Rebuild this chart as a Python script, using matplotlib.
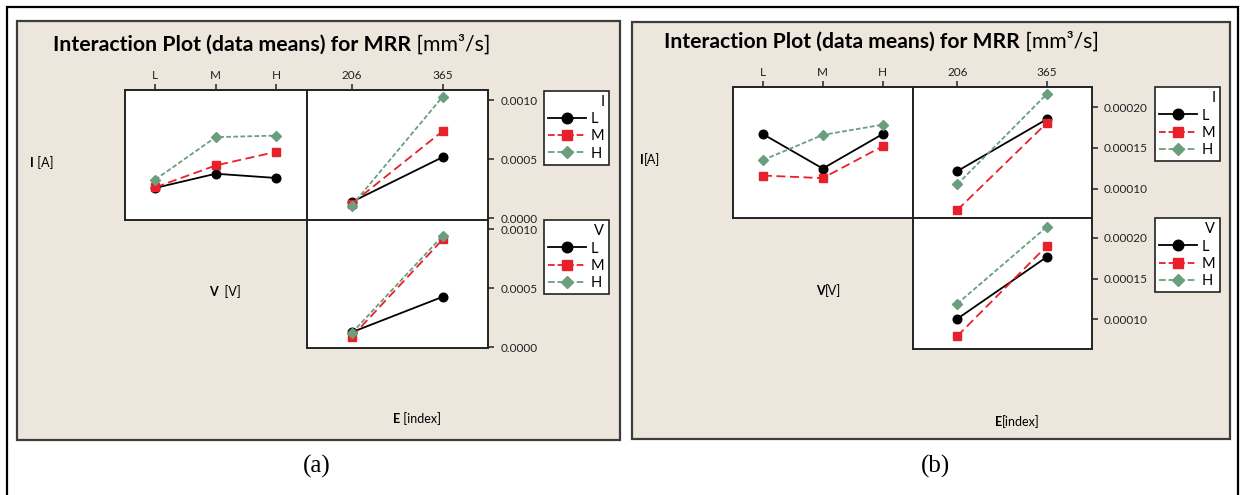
"""
Interaction plots (data means) for MRR - two panels (a) and (b)
"""
import matplotlib
matplotlib.use('Agg')
import matplotlib.pyplot as plt
from matplotlib.patches import Rectangle
from matplotlib.lines import Line2D

plt.rcParams.update({
    'font.family': ['Lato', 'DejaVu Sans'],
    'font.size': 8,
    'axes.linewidth': 1.4,
})

W, H = 1244, 495

# niveaux
LEVELS = ['L', 'M', 'H']
E_LEVELS = ['206', '365']

# panel (a) : moyennes, lignes dans l'ordre L, M, H
A_I_BY_V = [[0.000258, 0.000378, 0.000342],
            [0.000263, 0.000448, 0.000563],
            [0.000328, 0.000687, 0.000700]]
A_I_BY_E = [[0.000140, 0.000518],
            [0.000126, 0.000737],
            [0.000109, 0.001028]]
A_V_BY_E = [[0.000126, 0.000427],
            [0.000088, 0.000915],
            [0.000120, 0.000946]]
A_YTICKS = [0.0, 0.0005, 0.0010]

# panel (b)
B_I_BY_V = [[0.000167, 0.0001246, 0.000167],
            [0.000116, 0.0001128, 0.000152],
            [0.000135, 0.000166, 0.0001786]]
B_I_BY_E = [[0.0001214, 0.0001853],
            [0.0000735, 0.0001807],
            [0.000105, 0.0002163]]
B_V_BY_E = [[0.0001007, 0.0001766],
            [0.0000795, 0.00019],
            [0.0001192, 0.0002135]]
B_YTICKS = [0.00010, 0.00015, 0.00020]

STYLES = [
    dict(color='black', ls='-', marker='o', ms=6.2),
    dict(color='#E8202A', ls=(0, (5, 2.5)), marker='s', ms=5.4),
    dict(color='#6B9E7E', ls=(0, (2.6, 1.3)), marker='D', ms=5.2),
]
BEIGE = '#ECE6DC'
TITLE_BOLD = 'Interaction Plot (data means) for MRR'
TITLE_REST = ' [mm³/s]'


def frac(x0, y0, x1, y1):
    return [x0 / W, 1 - y1 / H, (x1 - x0) / W, (y1 - y0) / H]


fig = plt.figure(figsize=(W / 100, H / 100), dpi=100)
fig.patch.set_facecolor('white')
renderer = fig.canvas.get_renderer()


def two_part(x, y, bold, normal, size):
    t = fig.text(x / W, 1 - y / H, bold, fontsize=size, fontweight='bold', va='baseline')
    bb = t.get_window_extent(renderer=renderer)
    t2 = fig.text(bb.x1 / W, 1 - y / H, normal, fontsize=size, va='baseline')
    return t, t2


def draw_lines(ax, series, n):
    handles = []
    for vals, st in zip(series, STYLES):
        h, = ax.plot(range(n), vals, color=st['color'], ls=st['ls'], marker=st['marker'],
                     ms=st['ms'], lw=1.3, mfc=st['color'], mec=st['color'])
        handles.append(h)
    return handles


def panel(box, axes_px, sI_V, sI_E, sV_E, yticks, ylim, fmt, leg_px, title_px,
          labels, label_xy, caption):
    # fond beige
    x0, y0, x1, y1 = box
    fig.patches.append(Rectangle((x0 / W, 1 - y1 / H), (x1 - x0) / W, (y1 - y0) / H,
                                 transform=fig.transFigure, facecolor=BEIGE,
                                 edgecolor='#3C3C3C', lw=1.6, zorder=-1))
    left, mid, right, top, row, bottom = axes_px

    ax1 = fig.add_axes(frac(left, top, mid, row))
    ax2 = fig.add_axes(frac(mid, top, right, row))
    ax3 = fig.add_axes(frac(mid, row, right, bottom))

    h1 = draw_lines(ax1, sI_V, 3)
    draw_lines(ax2, sI_E, 2)
    h3 = draw_lines(ax3, sV_E, 2)

    ax1.set_xlim(-0.5, 2.5)
    ax2.set_xlim(-0.5, 1.5)
    ax3.set_xlim(-0.5, 1.5)
    for ax in (ax1, ax2, ax3):
        ax.set_ylim(*ylim)
        ax.set_facecolor('white')
        ax.tick_params(length=4, width=1.1, pad=2.5, labelsize=8.5, colors='#222222')
        for s in ax.spines.values():
            s.set_color('#222222')
    ax1.set_xticks(range(3), LEVELS)
    ax2.set_xticks(range(2), E_LEVELS)
    ax3.set_xticks([])
    for ax in (ax1, ax2):
        ax.xaxis.tick_top()
    ax1.set_yticks([])
    for ax in (ax2, ax3):
        ax.yaxis.tick_right()
        ax.set_yticks(yticks, [fmt.format(v) for v in yticks])
        ax.tick_params(axis='y', pad=5)

    # legendes
    for hs, name, (lx, ly) in zip((h1, h3), ('I', 'V'), leg_px):
        hs2 = [Line2D([], [], color=h.get_color(), ls=h.get_linestyle(), lw=1.3,
                      marker=h.get_marker(), ms=h.get_markersize() + 1.4) for h in hs]
        leg = fig.legend(hs2, LEVELS, title=name, loc='upper left',
                         bbox_to_anchor=(lx / W, 1 - ly / H), bbox_transform=fig.transFigure,
                         alignment='right', fancybox=False, edgecolor='#222222', framealpha=1,
                         fontsize=10.5, title_fontsize=10.5, handlelength=2.6,
                         handletextpad=0.3, labelspacing=0.22, borderpad=0.3,
                         borderaxespad=0)
        leg.get_frame().set_linewidth(1.2)

    # titre ajuste a la largeur
    tx, ty, tw = title_px
    t, t2 = two_part(tx, ty, TITLE_BOLD, TITLE_REST, 14)
    width = t2.get_window_extent(renderer=renderer).x1 - tx
    t.remove()
    t2.remove()
    two_part(tx, ty, TITLE_BOLD, TITLE_REST, 14 * tw / width)

    for (bold, normal), (lx, ly) in zip(labels, label_xy):
        two_part(lx, ly, bold, normal, 9)
    cx, cy = caption[1]
    fig.text(cx / W, 1 - cy / H, caption[0], fontsize=18, family='Liberation Serif',
             ha='center', va='center')


panel((17, 21, 620, 440), (125, 306.5, 488, 90, 219.5, 348),
      A_I_BY_V, A_I_BY_E, A_V_BY_E, A_YTICKS, (-0.0000085, 0.001085), '{:.4f}',
      [(544, 90.5), (544, 220)], (53, 51, 440),
      [('I', ' [A]'), ('V', '  [V]'), ('E', ' [index]')],
      [(30, 167), (209, 296), (393, 423)], ('(a)', (317, 466)))

panel((632, 22, 1230, 439), (733, 912.5, 1091.5, 87.5, 218, 349),
      B_I_BY_V, B_I_BY_E, B_V_BY_E, B_YTICKS, (0.0000637, 0.0002244), '{:.5f}',
      [(1155, 87), (1155, 218)], (664, 48, 439),
      [('I', '[A]'), ('V', '[V]'), ('E', '[index]')],
      [(640, 164), (816, 295), (995, 426)], ('(b)', (936, 466)))

# cadre exterieur
fig.patches.append(Rectangle((7 / W, -0.05), (1238 - 7) / W, 1 - 7 / H + 0.05,
                             transform=fig.transFigure, fill=False, edgecolor='black',
                             lw=1.6, zorder=-0.5))

fig.savefig('out.png', dpi=100, facecolor='white')
